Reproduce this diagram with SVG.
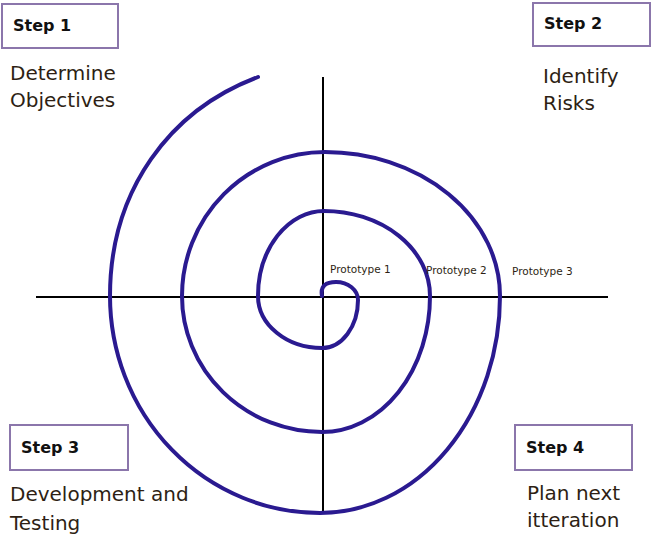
<svg xmlns="http://www.w3.org/2000/svg" width="653" height="542" viewBox="0 0 653 542">
<style>
.box{fill:#fff;stroke:#8b76ab;stroke-width:2}
.st{font-family:"DejaVu Sans",sans-serif;font-size:16px;font-weight:bold;fill:#111}
.lb{font-family:"DejaVu Sans",sans-serif;font-size:20px;fill:#2e1f14}
.pt{font-family:"DejaVu Sans",sans-serif;font-size:10.5px;fill:#2e1f14}
.ax{stroke:#000;stroke-width:2}
</style>
<rect width="653" height="542" fill="#fff"/>
<g id="connectors">
<line class="ax" x1="36" y1="297" x2="608" y2="297"/>
<line class="ax" x1="323" y1="77" x2="323" y2="514"/>
<path fill="none" stroke="#2a1a90" stroke-width="4" stroke-linecap="round" d="M322,296 C320,286 326,282 336,282 A22,18 0 0 1 358,300 A36,48 0 0 1 322,348 A64,52 0 0 1 258,296 A66,85 0 0 1 324,211 A106,85 0 0 1 430,296 A108,136 0 0 1 322,432 A140,136 0 0 1 182,296 A143,144 0 0 1 325,152 A175,144 0 0 1 500,296 A180,217 0 0 1 320,513 A210,217 0 0 1 110,296 C110,190 170,110 258,77"/>
</g>
<g id="step1"><rect class="box" x="2" y="4" width="116" height="44"/><text class="st" x="13" y="31">Step 1</text><text class="lb" x="10" y="80">Determine</text><text class="lb" x="10" y="107">Objectives</text></g>
<g id="step2"><rect class="box" x="533" y="3" width="117" height="43"/><text class="st" x="544" y="29">Step 2</text><text class="lb" x="543" y="83">Identify</text><text class="lb" x="543" y="110">Risks</text></g>
<g id="step3"><rect class="box" x="10" y="425" width="118" height="45"/><text class="st" x="21" y="453">Step 3</text><text class="lb" x="10" y="501">Development and</text><text class="lb" x="10" y="530">Testing</text></g>
<g id="step4"><rect class="box" x="515" y="425" width="117" height="45"/><text class="st" x="526" y="453">Step 4</text><text class="lb" x="527" y="500">Plan next</text><text class="lb" x="527" y="527">itteration</text></g>
<g id="prototypes"><text class="pt" x="330" y="273">Prototype 1</text><text class="pt" x="426" y="274">Prototype 2</text><text class="pt" x="512" y="275">Prototype 3</text></g>
</svg>
